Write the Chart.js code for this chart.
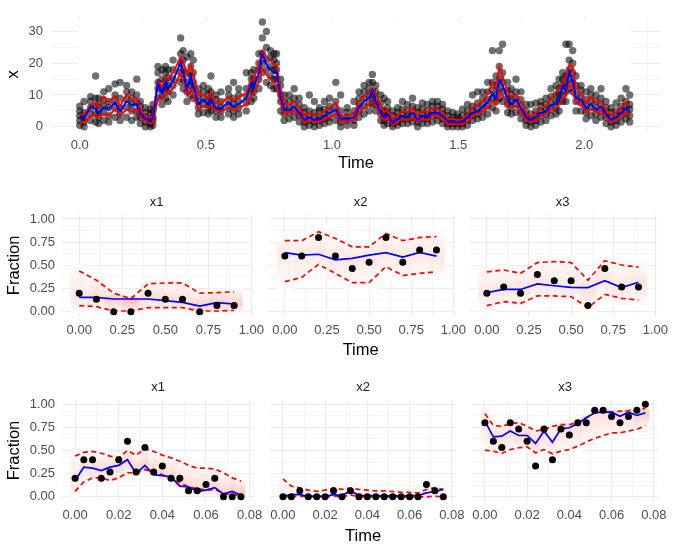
<!DOCTYPE html>
<html>
<head>
<meta charset="utf-8">
<script src="https://cdn.jsdelivr.net/npm/chart.js@4.4.1/dist/chart.umd.min.js"></script>
<style>
  html, body { margin: 0; padding: 0; background: #fff; }
  #wrap { position: relative; width: 685px; height: 546px; overflow: hidden; }
  #wrap canvas { position: absolute; }
</style>
</head>
<body>
<div id="wrap"></div>
<script>
// ---- top panel: simulated series x over Time ----
const topT = [
  0.000, 0.017, 0.043, 0.063, 0.075, 0.095, 0.115, 0.140, 0.160, 0.186,
  0.206, 0.226, 0.240, 0.260, 0.280, 0.290, 0.310, 0.326, 0.340, 0.350,
  0.370, 0.400, 0.410, 0.425, 0.440, 0.450, 0.470, 0.490, 0.510, 0.520,
  0.540, 0.560, 0.590, 0.610, 0.630, 0.660, 0.680, 0.690, 0.710, 0.724,
  0.740, 0.756, 0.770, 0.780, 0.796, 0.810, 0.830, 0.850, 0.870, 0.890,
  0.910, 0.930, 0.950, 0.970, 0.990, 1.015, 1.034, 1.060, 1.087, 1.107,
  1.127, 1.147, 1.160, 1.173, 1.193, 1.206, 1.220, 1.240, 1.260, 1.279,
  1.299, 1.319, 1.339, 1.358, 1.378, 1.398, 1.418, 1.438, 1.458, 1.478,
  1.498, 1.517, 1.537, 1.557, 1.577, 1.597, 1.617, 1.636, 1.650, 1.663,
  1.676, 1.696, 1.710, 1.729, 1.749, 1.769, 1.788, 1.808, 1.828, 1.848,
  1.868, 1.888, 1.900, 1.914, 1.927, 1.940, 1.954, 1.967, 1.987, 2.007,
  2.026, 2.046, 2.066, 2.086, 2.106, 2.126, 2.146, 2.165, 2.180
];
const topMid = [
  3.5, 2.8, 6.3, 5.6, 4.4, 6.1, 5.6, 7.7, 4.9, 8.1,
  6.8, 7.2, 4.0, 2.6, 2.1, 2.6, 13.7, 10.5, 14.2, 12.3,
  14.6, 20.2, 17.4, 11.9, 16.0, 12.8, 7.2, 8.6, 7.2, 8.6,
  5.8, 5.8, 7.7, 6.3, 7.2, 9.0, 13.7, 12.3, 17.0, 23.0,
  19.7, 17.9, 17.0, 17.4, 9.5, 5.4, 5.4, 6.3, 4.4, 2.1,
  3.0, 2.1, 2.6, 3.5, 4.4, 5.4, 2.6, 2.6, 2.8, 6.3,
  8.1, 9.0, 11.4, 8.1, 4.4, 3.1, 4.0, 1.2, 2.6, 3.5,
  3.1, 4.4, 2.1, 3.5, 3.1, 4.4, 4.4, 3.5, 1.7, 1.7,
  1.5, 1.7, 3.1, 4.4, 4.9, 6.3, 7.7, 10.5, 9.0, 14.6,
  13.2, 8.6, 7.2, 8.6, 5.8, 3.1, 2.1, 3.1, 4.4, 4.9,
  6.8, 7.2, 9.0, 12.8, 11.4, 17.4, 14.6, 9.0, 8.6, 5.8,
  7.2, 5.4, 6.3, 4.0, 2.1, 3.0, 4.4, 5.8, 4.9
];
const topLo = [
  1.5, 1.2, 3.5, 3.8, 3.0, 4.0, 3.5, 5.5, 3.6, 5.5,
  4.8, 5.5, 3.0, 1.8, 1.0, 1.2, 9.0, 8.5, 11.0, 10.5,
  12.0, 17.0, 15.0, 10.0, 12.0, 10.0, 5.5, 6.5, 6.0, 6.5,
  5.0, 4.8, 6.0, 5.2, 6.0, 7.0, 10.0, 10.5, 14.0, 18.5,
  16.5, 15.0, 14.0, 13.0, 7.5, 4.0, 4.5, 5.0, 3.5, 1.2,
  2.0, 1.5, 1.5, 2.5, 3.0, 4.0, 1.8, 1.5, 2.0, 4.5,
  6.0, 7.0, 8.0, 6.5, 3.5, 2.0, 3.0, 0.5, 1.5, 2.5,
  2.0, 3.0, 1.5, 2.5, 2.0, 3.5, 3.5, 2.5, 0.8, 0.8,
  0.8, 0.8, 1.5, 3.5, 4.0, 5.0, 6.0, 8.0, 7.0, 11.0,
  10.0, 6.5, 6.0, 6.5, 4.5, 2.0, 1.5, 2.0, 3.5, 4.0,
  5.5, 6.0, 7.0, 9.0, 9.5, 13.5, 12.0, 7.5, 7.0, 4.5,
  5.5, 4.5, 5.0, 3.0, 1.5, 2.0, 3.5, 4.5, 3.5
];
const topHi = [
  4.0, 3.8, 6.8, 7.5, 6.0, 9.5, 7.8, 9.8, 6.5, 10.2,
  8.5, 9.0, 5.5, 3.5, 3.0, 3.5, 14.5, 12.5, 15.5, 15.0,
  17.0, 22.0, 20.5, 16.5, 19.5, 17.0, 10.0, 10.0, 9.0, 11.0,
  7.5, 7.5, 9.5, 8.5, 9.5, 10.5, 14.5, 15.0, 19.5, 24.0,
  22.0, 21.0, 19.5, 19.5, 12.0, 7.5, 7.0, 8.0, 6.0, 3.5,
  4.5, 3.5, 3.5, 5.0, 6.0, 7.5, 3.5, 3.5, 4.0, 8.0,
  9.5, 10.5, 12.0, 10.5, 7.0, 4.5, 5.5, 2.5, 3.5, 5.0,
  4.5, 6.0, 3.5, 5.0, 4.5, 6.0, 5.5, 4.5, 2.5, 2.5,
  2.0, 2.5, 4.0, 6.0, 7.0, 8.0, 10.5, 14.0, 12.0, 19.0,
  16.0, 11.0, 9.5, 10.0, 8.0, 4.5, 3.0, 4.5, 6.0, 6.5,
  9.0, 11.0, 12.0, 13.5, 15.5, 19.5, 19.0, 12.0, 10.5, 7.5,
  9.5, 7.5, 8.0, 5.5, 3.5, 4.5, 6.0, 7.5, 6.5
];
// observed values at each topT time
const topObs = [
  [0.5,2,3.5,5,6.5], [0,1.5,3,4.5,8], [2,4,6,8,9.5], [1.5,4,6.5,9,16], [1,3,5,7,9],
  [2,4.5,6.5,8.5,11], [1.5,3.5,6,8,12], [3,6,8,10,13.5], [2,4,6,9,14], [3,6,8.5,11,13],
  [2,5,7,9,11], [3,5,7.5,10,15], [1,3,4.5,6.5,8], [0,1.5,3,4.5,6], [0,1,2.5,4,5.5],
  [0.5,2,3,5,7], [9,12,14,17,19], [7,10,12,15,18], [9,12,14.5,17,19], [8,11,13,15.5,18],
  [10,13,15,18,21], [14,17,20,23,28], [12,15,18,21,24], [8,11,14,17,22], [10,13,16,19,23],
  [9,12,14,17,21], [4,6,8,10,12], [4.5,7,9,11,13], [4,6,8,10,12], [5,7,9,11,16],
  [3,5,6.5,8.5,10], [3,5,6,8,11], [4,6,8,10,12], [3,5,7,9,14], [4,6,8,10,12],
  [5,7.5,9.5,12,17], [8,11,13,15,17], [9,11,13,15,18], [12,15,18,20,23], [17,20,23,28,33],
  [14,18,21,25,30], [13,16,19,22,24], [12,15,18,21,23], [12,15,18,20,23], [5,8,10,13,15],
  [2,4,6,8,10], [2.5,4.5,6,8,10], [3,5,7,9,12], [1.5,3.5,5,7,9], [0,1.5,3,4.5,6],
  [0.5,2,3.5,5,10], [0,1.5,3,4.5,8], [0.5,2,3,5,6], [1,2.5,4,5.5,8], [1.5,3,5,6.5,9],
  [2,4,6,8,14], [0,1.5,3,5,10], [0.5,2,3,4.5,6], [0.5,2,3.5,5,8], [3,5,7,9,11],
  [4,6.5,9,11,13], [5,7.5,10,12,14], [7,9,11,14,16.5], [5,7,9,11,13], [2,4,5.5,7.5,10],
  [0.5,2,3.5,5,9], [1,3,4.5,6,8], [0,1,2,3.5,5], [0.5,1.5,3,4.5,6], [1,2.5,4,5.5,8],
  [1,2.5,3.5,5,7], [1.5,3,5,6.5,9], [0,1.5,3,4.5,6], [1,2.5,4,5.5,7.5], [1,2.5,3.5,5,7],
  [1.5,3.5,5,6.5,8], [2,3.5,5,6.5,8], [1,2.5,4,5.5,7], [0,1,2,3.5,5], [0,1,2,3,4.5],
  [0,1,2,3,4], [0,1,2,3.5,5.5], [0.5,2,3.5,5,7], [2,3.5,5,6.5,10], [2.5,4,5.5,7.5,11],
  [3,5,7,9,11], [4,6.5,8.5,11,14], [6,9,11.5,14,24], [5,8,10,13,16], [9,12,15,19,24],
  [8,11,14,17,26], [4.5,7,9,11.5,14], [4,6,8,10,12], [4.5,7,9,11,15], [2.5,4.5,6.5,8.5,11],
  [0.5,2,3.5,5,7], [0,1.5,2.5,4,7], [0.5,2,3.5,5,7.5], [1.5,3.5,5,6.5,8], [2,4,5.5,7,9],
  [3.5,5.5,7.5,9.5,12], [4,6,8,10,13], [5,8,10,12,15], [8,10,13,15,17], [8,11,13.5,16,26],
  [12,15,18,21,26], [11,14,17,20,24], [5,8,10,13,16], [5,7.5,9.5,11.5,13], [2.5,4.5,6.5,8.5,11],
  [3.5,6,8,10,12], [2,4,6,8,10], [3,5,7,9,12], [1,3,4.5,6,8], [0,1.5,3,4.5,6],
  [0.5,2,3.5,5,7.5], [1.5,3.5,5,6.5,9], [2.5,4.5,6.5,8,12], [1.5,3.5,5.5,7,10]
];
const topXTicks = [0, 0.25, 0.5, 0.75, 1, 1.25, 1.5, 1.75, 2, 2.25];
const topYTicks = [0, 5, 10, 15, 20, 25, 30];

// ---- middle row: fractions, Time 0..0.9 ----
const midT = [0, 0.1, 0.2, 0.3, 0.4, 0.5, 0.6, 0.7, 0.8, 0.9];
const m1Obs = [0.2, 0.133, 0, 0, 0.2, 0.133, 0.133, 0, 0.067, 0.067];
const m1Mid = [0.155, 0.155, 0.137, 0.137, 0.137, 0.12, 0.10, 0.06, 0.097, 0.083];
const m1Lo  = [0.065, 0.054, 0.007, 0.007, 0.043, 0.043, 0.043, 0.007, 0.007, 0.014];
const m1Hi  = [0.44, 0.34, 0.2, 0.14, 0.30, 0.31, 0.31, 0.2, 0.205, 0.215];
const m2Obs = [0.6, 0.6, 0.8, 0.6, 0.467, 0.533, 0.8, 0.533, 0.667, 0.667];
const m2Mid = [0.637, 0.61, 0.62, 0.56, 0.575, 0.61, 0.637, 0.59, 0.64, 0.6];
const m2Lo  = [0.324, 0.37, 0.51, 0.414, 0.313, 0.313, 0.486, 0.39, 0.414, 0.43];
const m2Hi  = [0.766, 0.766, 0.863, 0.79, 0.70, 0.70, 0.845, 0.766, 0.8, 0.81];
const m3Obs = [0.2, 0.267, 0.2, 0.4, 0.333, 0.333, 0.067, 0.467, 0.267, 0.267];
const m3Mid = [0.205, 0.24, 0.24, 0.3, 0.28, 0.263, 0.26, 0.335, 0.26, 0.317];
const m3Lo  = [0.065, 0.108, 0.09, 0.17, 0.17, 0.162, 0.043, 0.187, 0.144, 0.126];
const m3Hi  = [0.43, 0.45, 0.414, 0.53, 0.54, 0.53, 0.34, 0.55, 0.504, 0.48];
const midXTicks = [0, 0.125, 0.25, 0.375, 0.5, 0.625, 0.75, 0.875, 1];

// ---- bottom row: fractions, Time 0..0.076 ----
const botT = [0, 0.004, 0.008, 0.012, 0.016, 0.02, 0.024, 0.028, 0.032, 0.036,
              0.04, 0.044, 0.048, 0.052, 0.056, 0.06, 0.064, 0.068, 0.072, 0.076];
const b1Obs = [0.2, 0.4, 0.4, 0.2, 0.267, 0.4, 0.6, 0.267, 0.533, 0.267,
               0.333, 0.2, 0.2, 0.067, 0.067, 0.133, 0.2, 0, 0, 0];
const b1Mid = [0.176, 0.32, 0.31, 0.284, 0.32, 0.34, 0.40, 0.25, 0.34, 0.24,
               0.23, 0.216, 0.115, 0.108, 0.058, 0.072, 0.10, 0.032, 0.058, 0.018];
const b1Lo  = [0.06, 0.16, 0.205, 0.205, 0.176, 0.205, 0.26, 0.26, 0.295, 0.26,
               0.24, 0.187, 0.158, 0.104, 0.09, 0.072, 0.08, 0.036, 0.025, 0.014];
const b1Hi  = [0.44, 0.48, 0.49, 0.47, 0.44, 0.42, 0.5, 0.45, 0.52, 0.49,
               0.45, 0.42, 0.385, 0.34, 0.31, 0.31, 0.30, 0.26, 0.205, 0.17];
const b2Obs = [0, 0, 0.067, 0, 0, 0, 0.067, 0, 0.067, 0,
               0, 0, 0, 0, 0, 0, 0, 0.133, 0.067, 0];
const b2Mid = [0.007, 0.025, 0.025, 0.007, 0.007, 0.007, 0.025, 0.014, 0.067, 0.014,
               0.014, 0.014, 0.007, 0.014, 0.007, 0.014, 0.014, 0.043, 0.058, 0.079];
const b2Lo  = [0, 0, 0.007, 0, 0, 0, 0.007, 0, 0.022, 0,
               0, 0, 0, 0, 0, 0, 0, 0, 0.007, 0];
const b2Hi  = [0.194, 0.115, 0.097, 0.072, 0.06, 0.072, 0.097, 0.08, 0.094, 0.08,
               0.072, 0.065, 0.065, 0.058, 0.05, 0.05, 0.043, 0.08, 0.1, 0.08];
const b3Obs = [0.8, 0.6, 0.533, 0.8, 0.733, 0.6, 0.333, 0.733, 0.4, 0.733,
               0.667, 0.8, 0.8, 0.933, 0.933, 0.867, 0.8, 0.867, 0.933, 1.0];
const b3Mid = [0.816, 0.647, 0.655, 0.71, 0.662, 0.662, 0.576, 0.71, 0.59, 0.734,
               0.745, 0.79, 0.853, 0.906, 0.917, 0.914, 0.87, 0.914, 0.878, 0.906];
const b3Lo  = [0.504, 0.493, 0.468, 0.51, 0.53, 0.54, 0.475, 0.51, 0.464, 0.493,
               0.51, 0.547, 0.59, 0.63, 0.662, 0.69, 0.69, 0.71, 0.727, 0.77];
const b3Hi  = [0.896, 0.77, 0.76, 0.79, 0.8, 0.76, 0.71, 0.727, 0.76, 0.78,
               0.78, 0.8, 0.853, 0.906, 0.914, 0.914, 0.924, 0.93, 0.942, 0.953];
const botXTicks = [0, 0.01, 0.02, 0.03, 0.04, 0.05, 0.06, 0.07, 0.08];

const fracTicks = [0, 0.125, 0.25, 0.375, 0.5, 0.625, 0.75, 0.875, 1];

Chart.defaults.font.family = "'Liberation Sans', Arial, sans-serif";
Chart.defaults.animation = false;

const wrap = document.getElementById('wrap');
const pts = (xs, ys) => xs.map((x, i) => ({ x, y: ys[i] }));

// shaded density tiles behind the intervals (ggplot raster look)
function makeFan(f) {
  return {
    id: 'fan',
    beforeDatasetsDraw(chart) {
      const { ctx, chartArea: a, scales: { x, y } } = chart;
      ctx.save();
      ctx.beginPath();
      ctx.rect(a.left, a.top, a.width, a.height);
      ctx.clip();
      if (f.cover) {
        const x0 = x.getPixelForValue(Math.min(...f.t) - f.cover[0]);
        const x1 = x.getPixelForValue(Math.max(...f.t) + f.cover[0]);
        const y0 = y.getPixelForValue(f.cover[1]);
        const y1 = y.getPixelForValue(f.cover[2]);
        ctx.fillStyle = '#fff';
        ctx.fillRect(x0, y1, x1 - x0, y0 - y1);
      }
      f.t.forEach((t, i) => {
        const span = Math.max(f.hi[i] - f.lo[i], 1e-3);
        const xl = x.getPixelForValue(t - f.w / 2);
        const xr = x.getPixelForValue(t + f.w / 2);
        const yt = y.getPixelForValue(f.hi[i] + span * f.pad);
        const yb = y.getPixelForValue(f.lo[i] - span * f.pad);
        const ym = y.getPixelForValue(f.mid[i]);
        const al = Math.min(f.maxA, f.k / span);
        const s = Math.min(0.95, Math.max(0.05, (ym - yt) / (yb - yt)));
        const g = ctx.createLinearGradient(0, yt, 0, yb);
        g.addColorStop(0, `rgba(${f.rgb},0)`);
        g.addColorStop(s, `rgba(${f.rgb},${al})`);
        g.addColorStop(1, `rgba(${f.rgb},0)`);
        if (f.opaque) {
          ctx.fillStyle = '#fff';
          ctx.fillRect(xl, yt, xr - xl, yb - yt);
        }
        ctx.fillStyle = g;
        ctx.fillRect(xl, yt, xr - xl, yb - yt);
      });
      ctx.restore();
    }
  };
}

// facet strip label above the panel
function makeStrip(text) {
  return {
    id: 'strip',
    afterDraw(chart) {
      if (!text) return;
      const { ctx, chartArea: a } = chart;
      ctx.save();
      ctx.font = "13px 'Liberation Sans', Arial, sans-serif";
      ctx.fillStyle = '#1A1A1A';
      ctx.textAlign = 'center';
      ctx.textBaseline = 'middle';
      ctx.fillText(text, (a.left + a.right) / 2, a.top - 12);
      ctx.restore();
    }
  };
}

const gridOpts = {
  color: c => (c.index % 2 === 0 ? '#EBEBEB' : '#F1F1F1'),
  lineWidth: c => (c.index % 2 === 0 ? 1.1 : 0.8),
  drawTicks: false
};

function panel(o) {
  const [left, top, w, h] = o.box;
  const c = document.createElement('canvas');
  c.width = w; c.height = h;
  c.style.left = left + 'px'; c.style.top = top + 'px';
  c.style.width = w + 'px'; c.style.height = h + 'px';
  wrap.appendChild(c);
  new Chart(c, {
    type: 'scatter',
    data: { datasets: o.datasets },
    options: {
      responsive: false,
      animation: false,
      devicePixelRatio: 1,
      layout: { padding: { left: 0, right: o.padR, top: o.padT, bottom: 0 } },
      plugins: { legend: { display: false }, tooltip: { enabled: false } },
      scales: {
        x: {
          type: 'linear', min: o.xMin, max: o.xMax,
          afterBuildTicks: s => { s.ticks = o.xTicks.map(v => ({ value: v })); },
          afterFit: s => { s.height = o.xH; },
          grid: gridOpts,
          border: { display: false },
          ticks: {
            autoSkip: false, maxRotation: 0, padding: o.xPad,
            color: '#4D4D4D', font: { size: 13 },
            callback: (v, i) => (i % 2 === 0 ? o.xFmt(v) : '')
          },
          title: {
            display: !!o.xTitle, text: o.xTitle || '', color: '#000',
            font: { size: 16.5 }, padding: { top: 0, bottom: o.xTitlePad || 0 }
          }
        },
        y: {
          type: 'linear', min: o.yMin, max: o.yMax,
          afterBuildTicks: s => { s.ticks = o.yTicks.map(v => ({ value: v })); },
          afterFit: s => { s.width = o.yW; },
          grid: gridOpts,
          border: { display: false },
          ticks: {
            display: o.yW > 0, autoSkip: false, padding: o.yPad || 7,
            color: '#4D4D4D', font: { size: 13 },
            callback: (v, i) => (i % 2 === 0 ? o.yFmt(v) : '')
          },
          title: {
            display: !!o.yTitle, text: o.yTitle || '', color: '#000',
            font: { size: 16.5 }, padding: { top: o.yTitlePad || 0, bottom: 0 }
          }
        }
      }
    },
    plugins: [makeFan(o.fan), makeStrip(o.strip)]
  });
}

// ---- top panel ----
const topPoints = topT.flatMap((t, i) => topObs[i].map(v => ({ x: t, y: v })));
panel({
  box: [0, 0, 685, 180], padR: 25, padT: 1, yW: 52, xH: 48,
  xMin: -0.11, xMax: 2.30, yMin: -1.65, yMax: 34.65,
  xTicks: topXTicks, yTicks: topYTicks,
  xFmt: v => v.toFixed(1), yFmt: v => String(v),
  xPad: 6, yPad: 9, xTitle: 'Time', xTitlePad: 7, yTitle: 'x', yTitlePad: 4,
  fan: { t: topT, lo: topLo, hi: topHi, mid: topMid, w: 0.02, pad: 0.6, k: 0.5,
         maxA: 0.18, rgb: '250,120,100', opaque: false, cover: [0.006, -0.5, 33.5] },
  datasets: [
    { data: topPoints, pointRadius: 3.7, pointBackgroundColor: 'rgba(0,0,0,0.56)',
      pointBorderWidth: 0, showLine: false, order: 3 },
    { data: pts(topT, topHi), showLine: true, borderColor: '#FF0000', borderWidth: 1.9,
      pointRadius: 0, order: 2 },
    { data: pts(topT, topLo), showLine: true, borderColor: '#FF0000', borderWidth: 1.9,
      pointRadius: 0, order: 2 },
    { data: pts(topT, topMid), showLine: true, borderColor: '#0000FF', borderWidth: 1.9,
      pointRadius: 0, order: 1 }
  ]
});

// ---- facet rows ----
function facetSets(t, obs, mid, lo, hi) {
  return [
    { data: pts(t, hi), showLine: true, borderColor: '#FF0000', borderWidth: 1.7,
      borderDash: [5, 3.5], pointRadius: 0, order: 2 },
    { data: pts(t, lo), showLine: true, borderColor: '#FF0000', borderWidth: 1.7,
      borderDash: [5, 3.5], pointRadius: 0, order: 2 },
    { data: pts(t, mid), showLine: true, borderColor: '#0000FF', borderWidth: 1.7,
      pointRadius: 0, order: 1 },
    { data: pts(t, obs), pointRadius: 3.5, pointBackgroundColor: '#000',
      pointBorderWidth: 0, showLine: false, order: 0 }
  ];
}

const rows = [
  { top: 185, h: 185, padT: 29.4, xH: 53.7, t: midT, w: 0.1, xMin: -0.1, xMax: 1.0,
    xTicks: midXTicks, titlePad: 10, maxA2: 0.5,
    sets: [[m1Obs, m1Mid, m1Lo, m1Hi], [m2Obs, m2Mid, m2Lo, m2Hi], [m3Obs, m3Mid, m3Lo, m3Hi]] },
  { top: 370, h: 176, padT: 29.5, xH: 44.5, t: botT, w: 0.004, xMin: -0.006, xMax: 0.082,
    xTicks: botXTicks, titlePad: 0, maxA2: 0.14,
    sets: [[b1Obs, b1Mid, b1Lo, b1Hi], [b2Obs, b2Mid, b2Lo, b2Hi], [b3Obs, b3Mid, b3Lo, b3Hi]] }
];
const facetNames = ['x1', 'x2', 'x3'];
const facetLeft = [0, 264, 466];

rows.forEach(r => {
  r.sets.forEach(([obs, mid, lo, hi], j) => {
    panel({
      box: [facetLeft[j], r.top, j === 0 ? 270 : 208, r.h], padR: 16, padT: r.padT,
      yW: j === 0 ? 62 : 0, xH: r.xH,
      xMin: r.xMin, xMax: r.xMax, yMin: -0.05, yMax: 1.05,
      xTicks: r.xTicks, yTicks: fracTicks,
      xFmt: v => v.toFixed(2), yFmt: v => v.toFixed(2),
      xPad: 6, yPad: 7,
      xTitle: j === 1 ? 'Time' : '', xTitlePad: r.titlePad,
      yTitle: j === 0 ? 'Fraction' : '', yTitlePad: 5,
      strip: facetNames[j],
      fan: { t: r.t, lo, hi, mid, w: r.w, pad: 0.22, k: 0.065,
             maxA: j === 1 ? r.maxA2 : 0.6, rgb: '246,110,80', opaque: true },
      datasets: facetSets(r.t, obs, mid, lo, hi)
    });
  });
});
</script>
</body>
</html>
